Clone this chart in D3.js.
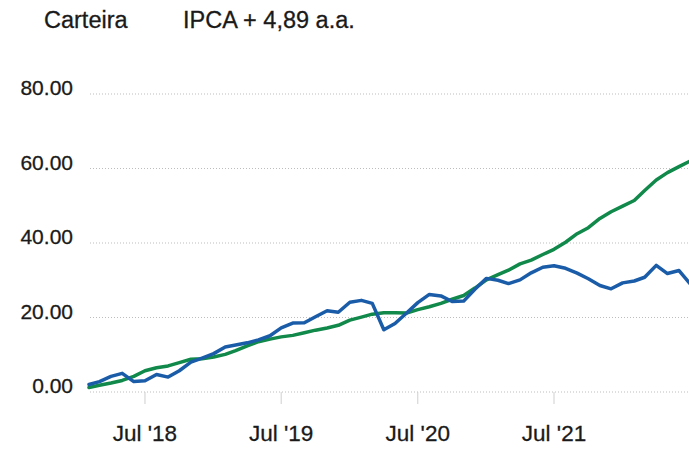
<!DOCTYPE html>
<html>
<head>
<meta charset="utf-8">
<script src="https://cdn.jsdelivr.net/npm/d3@7"></script>
<style>
	body { margin: 0; background: #fff; }
	svg { display: block; }
	text { font-family: "Liberation Sans", Arial, sans-serif; fill: #1a1a1a; stroke: #1a1a1a; stroke-width: 0.3; }
	.grid { stroke: #bdbdbd; stroke-width: 1; stroke-dasharray: 1,2; }
	.tick { stroke: #cfcfcf; stroke-width: 1; }
	.line { fill: none; stroke-width: 3.5; stroke-linejoin: round; stroke-linecap: round; }
</style>
</head>
<body>
<div id="chart"></div>
<script>
let width = 689;
let height = 449;

// monthly points, Feb 2018 .. Jul 2022
let months = [
	"2018-02", "2018-03", "2018-04", "2018-05", "2018-06", "2018-07", "2018-08", "2018-09", "2018-10", "2018-11", "2018-12",
	"2019-01", "2019-02", "2019-03", "2019-04", "2019-05", "2019-06", "2019-07", "2019-08", "2019-09", "2019-10", "2019-11", "2019-12",
	"2020-01", "2020-02", "2020-03", "2020-04", "2020-05", "2020-06", "2020-07", "2020-08", "2020-09", "2020-10", "2020-11", "2020-12",
	"2021-01", "2021-02", "2021-03", "2021-04", "2021-05", "2021-06", "2021-07", "2021-08", "2021-09", "2021-10", "2021-11", "2021-12",
	"2022-01", "2022-02", "2022-03", "2022-04", "2022-05", "2022-06", "2022-07"
];

let carteira = [
	2.0, 2.8, 4.2, 5.0, 2.8, 3.0, 4.7, 4.0, 5.7, 8.0, 9.1,
	10.3, 12.1, 12.6, 13.2, 14.0, 15.1, 17.2, 18.5, 18.6, 20.2, 21.8, 21.4,
	24.1, 24.6, 23.8, 16.7, 18.4, 21.2, 24.0, 26.2, 25.8, 24.3, 24.4, 27.6,
	30.5, 30.0, 29.1, 30.1, 32.0, 33.5, 33.9, 33.2, 31.9, 30.4, 28.6, 27.7,
	29.3, 29.8, 30.8, 34.0, 31.8, 32.6, 29.0
];

let ipca = [
	1.2, 1.8, 2.4, 3.1, 4.2, 5.7, 6.5, 7.0, 7.9, 8.8, 8.9,
	9.4, 10.1, 11.1, 12.4, 13.5, 14.2, 14.8, 15.2, 15.9, 16.6, 17.2, 17.9,
	19.3, 20.1, 20.9, 21.3, 21.3, 21.2, 22.1, 22.9, 23.8, 24.9, 25.9, 27.9,
	30.1, 31.5, 32.7, 34.4, 35.4, 36.9, 38.3, 40.2, 42.5, 44.1, 46.6, 48.4,
	49.9, 51.4, 54.1, 56.9, 58.9, 60.5, 62.0
];

let y_ticks = [0, 20, 40, 60, 80];
let x_ticks = ["2018-07", "2019-07", "2020-07", "2021-07"];
let x_tick_labels = ["Jul '18", "Jul '19", "Jul '20", "Jul '21"];

let parseMonth = d3.timeParse("%Y-%m");

let svg = d3.select("#chart").append("svg")
	.attr("width", width)
	.attr("height", height);

// x scale: Feb '18 sits at the left edge, Jul '21 at 554
let x = d3.scaleTime()
	.domain([parseMonth("2018-02"), parseMonth("2021-07")])
	.range([89, 554]);

let y = d3.scaleLinear()
	.domain([0, 80])
	.range([392, 94]);

// Title
svg.append("text")
	.attr("x", 44)
	.attr("y", 28)
	.style("font-size", "23.5px")
	.text("Carteira");

svg.append("text")
	.attr("x", 183)
	.attr("y", 28)
	.style("font-size", "23.5px")
	.text("IPCA + 4,89 a.a.");

// Gridlines and y labels
svg.selectAll(".grid").data(y_ticks).enter().append("line")
	.attr("class", "grid")
	.attr("x1", 90)
	.attr("x2", width)
	.attr("y1", function(d) { return y(d); })
	.attr("y2", function(d) { return y(d); });

svg.selectAll(".ylabel").data(y_ticks).enter().append("text")
	.attr("class", "ylabel")
	.attr("x", 73)
	.attr("y", function(d) { return y(d) + 1; })
	.attr("text-anchor", "end")
	.style("font-size", "21px")
	.text(function(d) { return d.toFixed(2); });

// x ticks and labels
svg.selectAll(".tick").data(x_ticks).enter().append("line")
	.attr("class", "tick")
	.attr("x1", function(d) { return x(parseMonth(d)); })
	.attr("x2", function(d) { return x(parseMonth(d)); })
	.attr("y1", y(0))
	.attr("y2", y(0) + 12);

svg.selectAll(".xlabel").data(x_ticks).enter().append("text")
	.attr("class", "xlabel")
	.attr("x", function(d) { return x(parseMonth(d)); })
	.attr("y", 441)
	.attr("text-anchor", "middle")
	.style("font-size", "22.5px")
	.text(function(d, i) { return x_tick_labels[i]; });

// Lines
let dates = months.map(parseMonth);

let line = d3.line()
	.x(function(d, i) { return x(dates[i]); })
	.y(function(d) { return y(d); });

svg.append("path")
	.datum(ipca)
	.attr("class", "line")
	.attr("stroke", "#10894a")
	.attr("d", line);

svg.append("path")
	.datum(carteira)
	.attr("class", "line")
	.attr("stroke", "#1a5ca8")
	.attr("d", line);
</script>
</body>
</html>
